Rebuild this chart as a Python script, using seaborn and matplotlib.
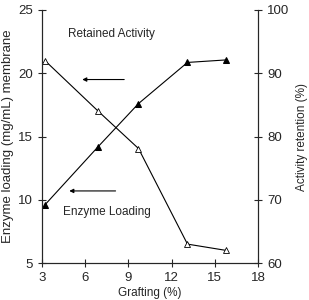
import matplotlib
matplotlib.use('Agg')
import matplotlib.pyplot as plt
import pandas as pd
import seaborn as sns

# values
grafting = [3.2, 6.9, 9.7, 13.1, 15.8]
enzyme_loading = [9.6, 14.2, 17.6, 20.85, 21.05]
activity_retention = [92.0, 84.0, 78.1, 63.0, 62.0]

sns.set_style('ticks')
plt.rcParams['font.family'] = ['Liberation Sans', 'DejaVu Sans']
plt.rcParams['font.size'] = 9

loading = pd.DataFrame({'grafting': grafting, 'loading': enzyme_loading})
retention = pd.DataFrame({'grafting': grafting, 'retention': activity_retention})

fig = plt.figure(figsize=(3.09, 3.00), dpi=100)
ax = fig.add_axes([0.136, 0.123, 0.699, 0.844])
ax2 = ax.twinx()

sns.lineplot(data=loading, x='grafting', y='loading', ax=ax, color='black',
             lw=0.8, marker='^', markersize=4, markerfacecolor='black',
             markeredgecolor='black')
sns.lineplot(data=retention, x='grafting', y='retention', ax=ax2, color='black',
             lw=0.8, marker='^', markersize=4, markerfacecolor='white',
             markeredgecolor='black', markeredgewidth=0.6)

ax.set_xlim(3, 18)
ax.set_ylim(5, 25)
ax2.set_ylim(60, 100)
ax.set_xticks([3, 6, 9, 12, 15, 18])
ax.set_yticks([5, 10, 15, 20, 25])
ax2.set_yticks([60, 70, 80, 90, 100])

ax.set_xlabel('Grafting (%)', fontsize=8.5, labelpad=2)
ax.set_ylabel('Enzyme loading (mg/mL) membrane', fontsize=9.5, labelpad=3)
ax2.set_ylabel('Activity retention (%)', fontsize=8.5, labelpad=5)

for a in (ax, ax2):
    a.spines['top'].set_visible(False)
    for s in a.spines.values():
        s.set_linewidth(0.8)
    a.tick_params(direction='inout', length=6, width=0.8, labelsize=9.5)

ax.text(7.8, 23.1, 'Retained Activity', ha='center', va='center', fontsize=8.5)
ax.annotate('', xy=(5.6, 19.5), xytext=(8.9, 19.5),
            arrowprops=dict(arrowstyle='-|>', color='black', lw=0.8,
                            mutation_scale=6))
ax.text(7.5, 9.0, 'Enzyme Loading', ha='center', va='center', fontsize=8.5)
ax.annotate('', xy=(4.7, 10.7), xytext=(8.3, 10.7),
            arrowprops=dict(arrowstyle='-|>', color='black', lw=0.8,
                            mutation_scale=6))

fig.savefig('out.png', dpi=100)
